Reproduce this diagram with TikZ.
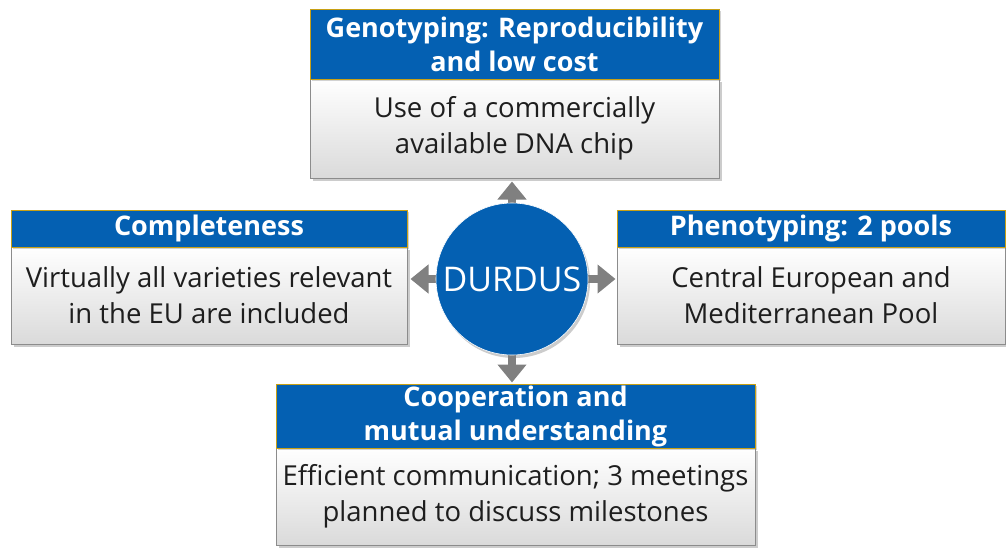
\documentclass[tikz,border=0pt]{standalone}
\usepackage{fontspec}
\setmainfont{Open Sans}
\usetikzlibrary{arrows.meta,shadows}
\definecolor{hdrblue}{RGB}{4,96,178}
\definecolor{hdrline}{RGB}{200,160,20}
\definecolor{bodyline}{RGB}{140,140,140}
\definecolor{bodytext}{RGB}{30,30,30}
\definecolor{arrowgray}{RGB}{128,128,128}
\begin{document}
\begin{tikzpicture}[x=1pt,y=-1pt,
  hdr/.style={draw=hdrline,line width=1pt,fill=hdrblue,text=white,
    font=\bfseries\fontsize{27}{34}\selectfont,align=center,inner sep=0pt,
    drop shadow={shadow xshift=2pt,shadow yshift=-2pt,opacity=0.35}},
  bodybox/.style={draw=bodyline,line width=1pt,top color=white,
    bottom color={rgb,255:red,218;green,218;blue,218},text=bodytext,
    font=\fontsize{27.5}{36}\selectfont,align=center,inner sep=0pt,
    drop shadow={shadow xshift=3pt,shadow yshift=-3pt,opacity=0.4}},
  link/.style={draw=arrowgray,line width=8pt,
    {Triangle[width=28pt,length=18pt]}-{Triangle[width=28pt,length=18pt]}},
  hub/.style={circle,fill=hdrblue,draw=white,line width=0.6pt,minimum size=152pt,
    inner sep=0pt,text=white,font=\fontsize{34}{40}\selectfont,
    drop shadow={shadow xshift=2pt,shadow yshift=-3pt,opacity=0.4}}]
\useasboundingbox (0,0) rectangle (1006,547);

% top box: genotyping
\node[bodybox,minimum width=409pt,minimum height=99pt] (genob) at (514.5,128.5)
  {Use of a commercially\\available DNA chip};
\node[hdr,minimum width=409pt,minimum height=70pt] (geno) at (514.5,44)
  {Genotyping: Reproducibility\\and low cost};

% left box: completeness
\node[bodybox,minimum width=396pt,minimum height=97pt] (compb) at (209,295.5)
  {Virtually all varieties relevant\\in the EU are included};
\node[hdr,minimum width=396pt,minimum height=37pt] (comp) at (209,228.5)
  {Completeness};

% right box: phenotyping
\node[bodybox,minimum width=388pt,minimum height=97pt] (phenob) at (811,295.5)
  {Central European and\\Mediterranean Pool};
\node[hdr,minimum width=388pt,minimum height=37pt] (pheno) at (811,228.5)
  {Phenotyping: 2 pools};

% bottom box: cooperation
\node[bodybox,minimum width=479pt,minimum height=97pt] (coopb) at (515.5,496.5)
  {Efficient communication; 3 meetings\\planned to discuss milestones};
\node[hdr,minimum width=479pt,minimum height=64pt] (coop) at (515.5,416)
  {Cooperation and\\mutual understanding};

% connectors behind the hub
\coordinate (c) at (512,279);
\draw[link] ([yshift=-3pt]genob.south -| c) -- ([yshift=1pt]coop.north -| c);
\draw[link] ([xshift=3pt]compb.east |- c) -- ([xshift=-1pt]phenob.west |- c);

% central hub
\node[hub] (durdus) at (c) {DURDUS};
\end{tikzpicture}
\end{document}
